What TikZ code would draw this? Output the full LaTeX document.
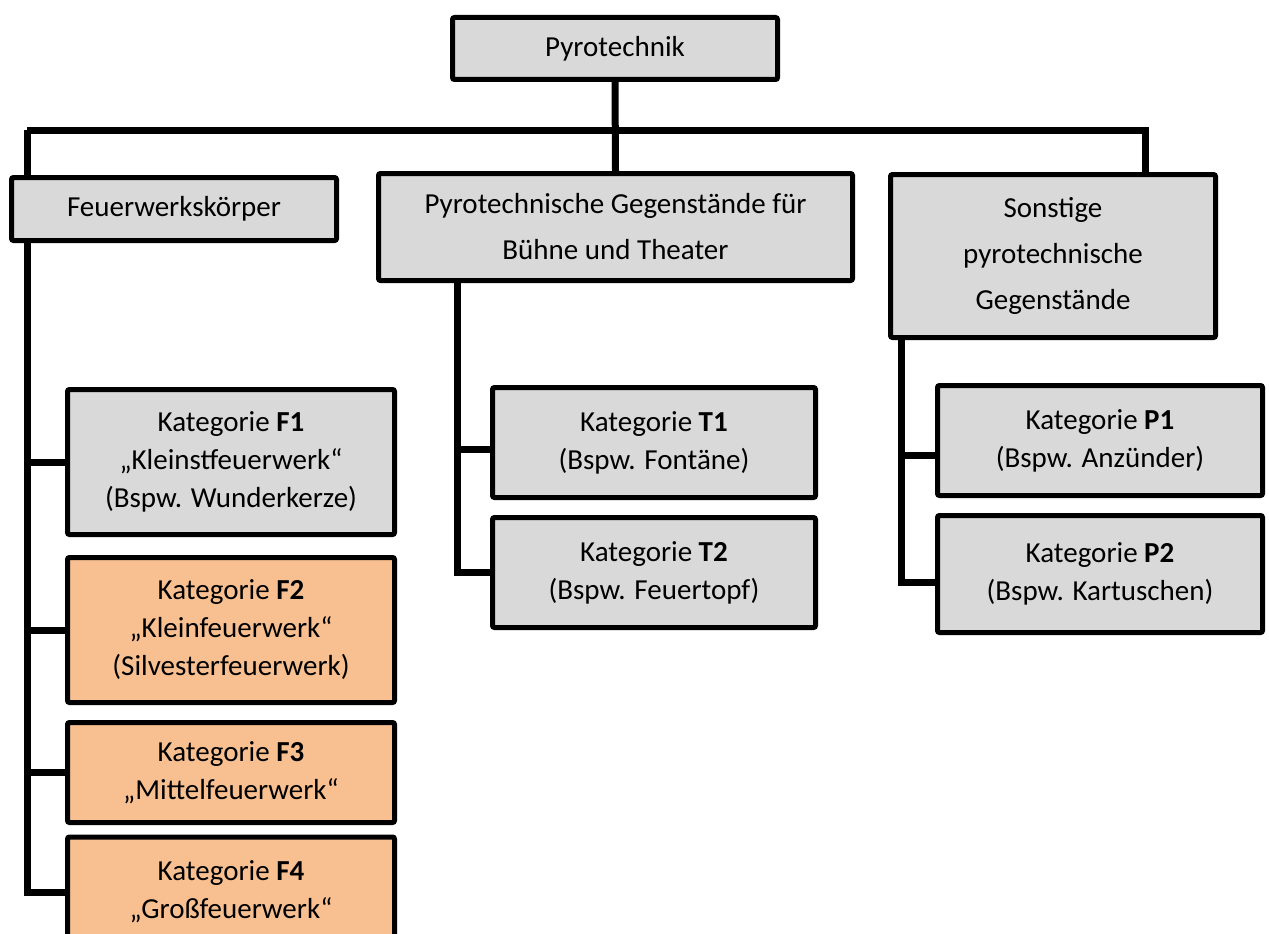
\documentclass[tikz,border=0pt]{standalone}
\usepackage{fontspec}
\setmainfont{Carlito}
\usetikzlibrary{backgrounds,shadows}
\definecolor{boxgray}{HTML}{D9D9D9}
\definecolor{boxorange}{HTML}{F8C091}
\tikzset{
  box/.style  = {shape=rectangle, draw, line width=5pt, rounded corners=2pt,
                 fill=boxgray, align=center, inner sep=0pt,
                 font=\fontsize{29}{38}\selectfont,
                 drop shadow={shadow xshift=2pt, shadow yshift=-2pt, opacity=.25}},
  head/.style = {box, font=\fontsize{29}{46}\selectfont},
  fw/.style   = {box, fill=boxorange},
  link/.style = {draw, line width=7pt}
}
\begin{document}
\begin{tikzpicture}[x=1pt, y=-1pt]
  \useasboundingbox (0,0) rectangle (1269,934);

  % top level
  \node [head, minimum width=325pt, minimum height=62pt] (top) at (615,48.5) {Pyrotechnik};

  % second level
  \node [head, minimum width=325pt, minimum height=63pt] (feu) at (174,209) {Feuerwerksk\"orper};
  \node [head, minimum width=474pt, minimum height=107pt] (buehne) at (615.5,227)
        {Pyrotechnische Gegenst\"ande f\"ur\\B\"uhne und Theater};
  \node [head, minimum width=325pt, minimum height=163pt] (sonst) at (1053,256)
        {Sonstige\\pyrotechnische\\Gegenst\"ande};

  % Feuerwerkskoerper
  \node [box, minimum width=327pt, minimum height=145pt] (F1) at (231,462)
        {Kategorie \textbf{F1}\\„Kleinstfeuerwerk“\\(Bspw. Wunderkerze)};
  \node [fw, minimum width=327pt, minimum height=145pt] (F2) at (231,630)
        {Kategorie \textbf{F2}\\„Kleinfeuerwerk“\\(Silvesterfeuerwerk)};
  \node [fw, minimum width=327pt, minimum height=100pt] (F3) at (231,772.5)
        {Kategorie \textbf{F3}\\„Mittelfeuerwerk“};
  \node [fw, minimum width=327pt, minimum height=110pt] (F4) at (231,892)
        {Kategorie \textbf{F4}\\„Gro\ss feuerwerk“};

  % Buehne und Theater
  \node [box, minimum width=323pt, minimum height=110pt] (T1) at (654,442.5)
        {Kategorie \textbf{T1}\\(Bspw. Font\"ane)};
  \node [box, minimum width=323pt, minimum height=110pt] (T2) at (654,572.5)
        {Kategorie \textbf{T2}\\(Bspw. Feuertopf)};

  % Sonstige
  \node [box, minimum width=325pt, minimum height=110pt] (P1) at (1100,440.5)
        {Kategorie \textbf{P1}\\(Bspw. Anz\"under)};
  \node [box, minimum width=325pt, minimum height=117pt] (P2) at (1100,574)
        {Kategorie \textbf{P2}\\(Bspw. Kartuschen)};

  \begin{scope}[on background layer]
    \coordinate (barL) at (27,130);
    \coordinate (barR) at (1145,130);
    \draw [link] (top.south) -- (buehne.north);
    \draw [link] (barL) -- (barR) -- (barR |- sonst.north);
    \draw [link] (barL) -- (barL |- F4.west) -- (F4.west);
    \foreach \n in {F1,F2,F3}
      \draw [link] (barL |- \n.west) -- (\n.west);

    \coordinate (tL) at ([xshift=-33pt]T1.west |- buehne.south);
    \draw [link] (tL) -- (tL |- T2.west) -- (T2.west);
    \draw [link] ([yshift=-7pt]T1.west) -- ++(-33,0);

    \coordinate (pL) at ([xshift=-34pt]P1.west |- sonst.south);
    \draw [link] (pL) -- ([yshift=-8pt]pL |- P2.west) -- ([yshift=-8pt]P2.west);
    \draw [link] ([yshift=-15pt]P1.west) -- ++(-34,0);
  \end{scope}
\end{tikzpicture}
\end{document}
